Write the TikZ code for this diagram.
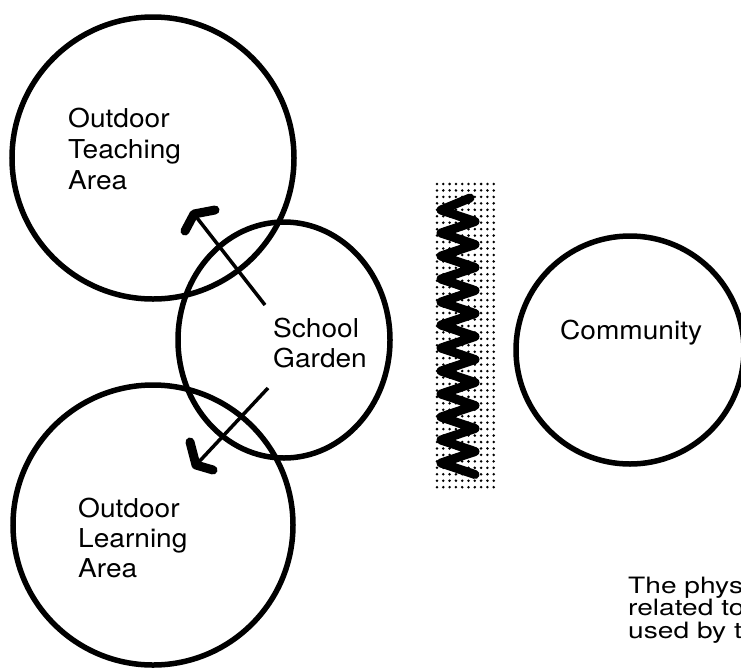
\documentclass[tikz,border=0pt]{standalone}
\usepackage{fontspec}
\setmainfont{TeX Gyre Heros}
\newfontfamily\lblfont{TeX Gyre Heros}[FakeStretch=1.08]
\newfontfamily\notefont{TeX Gyre Heros}[FakeStretch=1.25]
\usetikzlibrary{shapes.geometric,calc}
\begin{document}
\begin{tikzpicture}[x=1pt,y=-1pt,
  ring/.style={draw=black,line width=5.5pt,circle,inner sep=0pt},
  oval/.style={draw=black,line width=5.5pt,ellipse,inner sep=0pt},
  lbl/.style={font=\lblfont\fontsize{26}{31}\selectfont,align=left,anchor=base west,inner sep=0pt},
  note/.style={font=\notefont\fontsize{22.5}{22.5}\selectfont,align=left,anchor=base west,inner sep=0pt},
  shaft/.style={line width=3.5pt},
  hook/.style={line width=9pt,line cap=round,line join=round},
  zig/.style={line width=9pt,line join=round,line cap=round},
  dot/.style={fill=black}]
\useasboundingbox (0,0) rectangle (741,670);

% circles
\node[ring,minimum size=282pt] (teach) at (153,158) {};
\node[ring,minimum size=280pt] (learn) at (153,525) {};
\node[ring,minimum size=228pt] (comm) at (630,350) {};
\node[oval,minimum width=212pt,minimum height=236pt] (garden) at (284,340) {};

% labels (anchored at the baseline of the last line)
\node[lbl] (tteach) at (68,189) {Outdoor\\Teaching\\Area};
\node[lbl,font=\lblfont\fontsize{26}{30}\selectfont] (tgarden) at (273,367) {School\\Garden};
\node[lbl] (tcomm) at (560,339) {Community};
\node[lbl,font=\lblfont\fontsize{26}{30}\selectfont] (tlearn) at (78,577) {Outdoor\\Learning\\Area};
\node[note] (tnote) at (628,638) {The phys\\related to\\used by t};

% arrows
\coordinate (a1s) at (265,305);
\coordinate (a1e) at (194,214);
\coordinate (a2s) at (268,388);
\coordinate (a2e) at (196,465);
\draw[shaft] (a1s) -- (a1e);
\draw[hook] ($(a1e)+(-9,17)$) -- (a1e) -- ($(a1e)+(21,-4)$);
\draw[shaft] (a2s) -- (a2e);
\draw[hook] ($(a2e)+(-6,-23)$) -- (a2e) -- ($(a2e)+(17,5)$);

% dotted barrier
\foreach \i in {0,...,9}{
  \foreach \j in {0,...,47}{
    \fill[dot] (437+\i*6.3,184+\j*6.45) circle (1.4);
  }
}
\draw[zig] (470,198) \foreach \k in {0,...,11}{ -- (441,210+23*\k) -- (475,221.5+23*\k) };
\end{tikzpicture}
\end{document}
